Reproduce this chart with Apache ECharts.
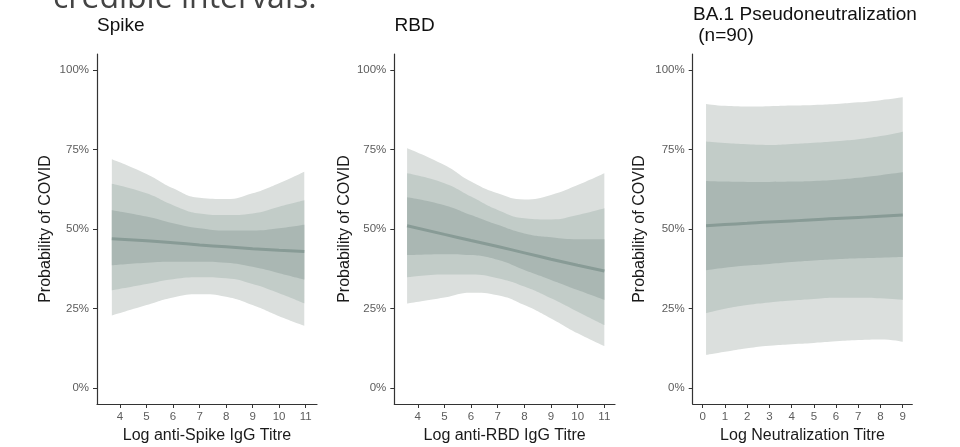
<!DOCTYPE html>
<html>
<head>
<meta charset="utf-8">
<script src="https://cdn.jsdelivr.net/npm/echarts@6/dist/echarts.min.js"></script>
<style>
html,body{margin:0;padding:0;background:#fff;}
#chart{width:960px;height:447px;}
</style>
</head>
<body>
<div id="chart"></div>
<script>
// ---------- data (probability of COVID, %) ----------
var spikeX   = [3.69, 5, 6, 7, 8, 9, 10, 10.95];
var spikeU95 = [71.9, 67.3, 62.8, 59.8, 59.4, 61.2, 64.4, 68.0];
var spikeU80 = [64.2, 61.2, 57.5, 54.9, 54.4, 54.9, 57.0, 59.0];
var spikeU50 = [55.9, 53.9, 51.8, 50.2, 49.5, 49.5, 50.2, 51.3];
var spikeMed = [46.9, 46.3, 45.7, 45.0, 44.4, 43.8, 43.3, 42.9];
var spikeL50 = [38.6, 39.4, 39.7, 39.7, 39.4, 38.1, 36.1, 34.1];
var spikeL80 = [30.7, 32.7, 34.2, 34.8, 34.5, 32.7, 29.8, 26.6];
var spikeL95 = [22.8, 26.1, 28.5, 29.5, 28.7, 26.1, 22.6, 19.6];

var rbdX   = [3.6, 5, 6, 7, 8, 9, 10, 11];
var rbdU95 = [75.4, 70.1, 64.9, 61.2, 59.3, 60.7, 63.8, 67.5];
var rbdU80 = [67.5, 64.4, 60.2, 56.0, 53.4, 53.0, 54.4, 56.5];
var rbdU50 = [60.0, 57.5, 54.4, 51.3, 48.6, 47.4, 46.8, 46.8];
var rbdMed = [51.0, 48.3, 46.4, 44.5, 42.5, 40.5, 38.6, 36.8];
var rbdL50 = [41.8, 42.1, 41.8, 40.3, 37.1, 34.0, 30.8, 27.7];
var rbdL80 = [34.8, 35.7, 35.7, 34.5, 31.9, 28.2, 24.0, 19.8];
var rbdL95 = [26.6, 28.5, 30.0, 29.2, 26.1, 21.9, 17.2, 13.2];

var neutX   = [0.15, 1, 2, 3, 4, 5, 6, 7, 8, 9];
var neutU95 = [89.3, 88.7, 88.5, 88.6, 88.8, 89.0, 89.3, 89.8, 90.5, 91.4];
var neutU80 = [77.5, 77.0, 76.6, 76.4, 76.7, 77.1, 77.6, 78.2, 79.2, 80.6];
var neutU50 = [65.1, 64.9, 64.8, 64.8, 64.9, 65.1, 65.5, 66.1, 66.9, 67.8];
var neutMed = [51.0, 51.4, 51.8, 52.2, 52.5, 52.9, 53.3, 53.6, 54.0, 54.4];
var neutL50 = [37.0, 37.8, 38.5, 39.0, 39.6, 40.1, 40.5, 40.8, 41.0, 41.2];
var neutL80 = [23.5, 24.9, 26.1, 26.9, 27.5, 28.0, 28.4, 28.4, 28.2, 27.7];
var neutL95 = [10.4, 11.4, 12.5, 13.3, 13.8, 14.2, 14.7, 15.1, 15.3, 14.6];

var yTicks = [0, 25, 50, 75, 100];
var spikeTicks = [4, 5, 6, 7, 8, 9, 10, 11];
var rbdTicks = [4, 5, 6, 7, 8, 9, 10, 11];
var neutTicks = [0, 1, 2, 3, 4, 5, 6, 7, 8, 9];

var panelTitles = ['Spike', 'RBD', 'BA.1 Pseudoneutralization\n (n=90)'];
var xNames = ['Log anti-Spike IgG Titre', 'Log anti-RBD IgG Titre', 'Log Neutralization Titre'];
var yName = 'Probability of COVID';
var caption = 'credible intervals.';

// ---------- styling ----------
var FONT = '"Liberation Sans", Arial, Helvetica, sans-serif';
var C95 = '#dbdfdd', C80 = '#c2ccc8', C50 = '#aab7b3', CLINE = '#889b96';
var SMOOTH = 0.5;

var panels = [
  {x: spikeX, u95: spikeU95, u80: spikeU80, u50: spikeU50, med: spikeMed, l50: spikeL50, l80: spikeL80, l95: spikeL95,
   ticks: spikeTicks, xmin: 3.13, xmax: 11.43, grid: {left: 97, width: 220}, nameGap: 43},
  {x: rbdX, u95: rbdU95, u80: rbdU80, u50: rbdU50, med: rbdMed, l50: rbdL50, l80: rbdL80, l95: rbdL95,
   ticks: rbdTicks, xmin: 3.12, xmax: 11.4, grid: {left: 394.3, width: 220.7}, nameGap: 42},
  {x: neutX, u95: neutU95, u80: neutU80, u50: neutU50, med: neutMed, l50: neutL50, l80: neutL80, l95: neutL95,
   ticks: neutTicks, xmin: -0.45, xmax: 9.43, grid: {left: 692.7, width: 219.6}, nameGap: 45}
];

// rows are [y, x] so that stacking applies to the y value (encode maps them)
function rowsYX(xs, ys) { return xs.map(function (x, i) { return [ys[i], x]; }); }
function diffsYX(xs, hi, lo) { return xs.map(function (x, i) { return [hi[i] - lo[i], x]; }); }

var grids = [], xAxes = [], yAxes = [], series = [], titles = [];
panels.forEach(function (p, i) {
  grids.push({left: p.grid.left, width: p.grid.width, top: 54, height: 350, containLabel: false, outerBoundsMode: 'none'});
  xAxes.push({
    type: 'value', gridIndex: i, min: p.xmin, max: p.xmax,
    name: xNames[i], nameLocation: 'middle', nameGap: 23,
    nameTextStyle: {fontFamily: FONT, fontSize: 16, color: '#1a1a1a'},
    axisLine: {show: true, onZero: false, lineStyle: {color: '#333', width: 1.2}},
    axisTick: {show: true, length: 4, customValues: p.ticks, lineStyle: {color: '#333', width: 1}},
    axisLabel: {customValues: p.ticks, margin: 7, fontFamily: FONT, fontSize: 11.5, color: '#5c5c5c'},
    splitLine: {show: false}
  });
  yAxes.push({
    type: 'value', gridIndex: i, min: -5, max: 105,
    name: yName, nameLocation: 'middle', nameGap: p.nameGap, nameRotate: 90,
    nameTextStyle: {fontFamily: FONT, fontSize: 16, color: '#1a1a1a'},
    axisLine: {show: true, onZero: false, lineStyle: {color: '#333', width: 1.2}},
    axisTick: {show: true, length: 4, customValues: yTicks, lineStyle: {color: '#333', width: 1}},
    axisLabel: {customValues: yTicks, margin: 8, fontFamily: FONT, fontSize: 11.5, color: '#5c5c5c',
                formatter: function (v) { return v + '%'; }},
    splitLine: {show: false}
  });
  var bands = [[p.l95, p.u95, C95, 'b95'], [p.l80, p.u80, C80, 'b80'], [p.l50, p.u50, C50, 'b50']];
  bands.forEach(function (b) {
    var st = b[3] + '_' + i;
    series.push({
      type: 'line', xAxisIndex: i, yAxisIndex: i, stack: st, data: rowsYX(p.x, b[0]),
      encode: {x: 1, y: 0},
      symbol: 'none', smooth: SMOOTH, lineStyle: {opacity: 0, width: 0}, silent: true, z: 1
    });
    series.push({
      type: 'line', xAxisIndex: i, yAxisIndex: i, stack: st, data: diffsYX(p.x, b[1], b[0]),
      encode: {x: 1, y: 0},
      symbol: 'none', smooth: SMOOTH, lineStyle: {opacity: 0, width: 0},
      areaStyle: {color: b[2], opacity: 1}, silent: true, z: 1
    });
  });
  series.push({
    type: 'line', xAxisIndex: i, yAxisIndex: i, data: rowsYX(p.x, p.med), encode: {x: 1, y: 0},
    symbol: 'none', smooth: SMOOTH, lineStyle: {color: CLINE, width: 3}, silent: true, z: 3
  });
  titles.push({
    text: panelTitles[i], left: [97, 394.5, 693][i], top: [14.6, 14.6, 3.6][i], padding: 0,
    textStyle: {fontFamily: FONT, fontSize: 19, fontWeight: 'normal', color: '#111', lineHeight: 21.5}
  });
});

var chart = echarts.init(document.getElementById('chart'), null, {renderer: 'canvas'});
chart.setOption({
  animation: false,
  backgroundColor: '#fff',
  title: titles,
  grid: grids,
  xAxis: xAxes,
  yAxis: yAxes,
  series: series,
  graphic: [{
    type: 'text', x: 53, y: -1.5, silent: true,
    style: {text: caption, font: '32px "Open Sans", sans-serif', fill: '#444', verticalAlign: 'middle', align: 'left'}
  }]
});
</script>
</body>
</html>
